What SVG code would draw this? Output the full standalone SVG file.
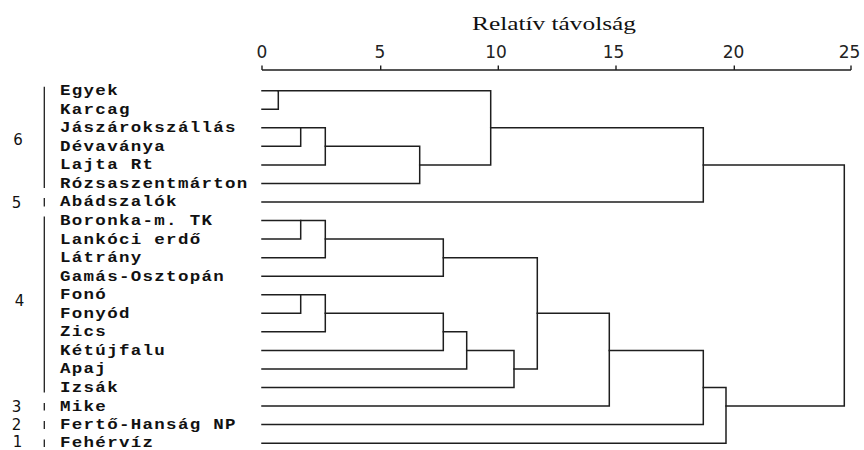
<svg xmlns="http://www.w3.org/2000/svg" width="864" height="450" viewBox="0 0 864 450">
  <style>
    .tree { fill: none; stroke: #1e1e1e; stroke-width: 1.5; stroke-linecap: square; stroke-linejoin: miter; }
    .axis { fill: none; stroke: #1e1e1e; stroke-width: 1.4; }
    .bar { fill: none; stroke: #1e1e1e; stroke-width: 1.3; }
    .num { font-family: "DejaVu Sans", "Liberation Sans", sans-serif; font-size: 17px; fill: #222; text-anchor: middle; }
    .title { font-family: "Liberation Serif", "Times New Roman", serif; font-size: 19px; fill: #111; }
    .grp { font-family: "DejaVu Sans", "Liberation Sans", sans-serif; font-size: 15px; fill: #111; text-anchor: middle; }
    .leaf { font-family: "Liberation Mono", "Courier New", monospace; font-size: 14px; font-weight: bold; letter-spacing: 1.04px; fill: #111; }
  </style>
  <rect width="864" height="450" fill="#ffffff"/>

  <!-- distance axis -->
  <g id="axis">
    <text class="title" x="472" y="29.5" textLength="164" lengthAdjust="spacingAndGlyphs">Relatív távolság</text>
    <path class="axis" d="M262 70 H851 M262 65.5 V70 M380.7 65.5 V70 M498.3 65.5 V70 M616 65.5 V70 M734.3 65.5 V70 M851 65.5 V70"/>
    <text class="num" x="262" y="57.5">0</text>
    <text class="num" x="380" y="57.5">5</text>
    <text class="num" x="496" y="57.5">10</text>
    <text class="num" x="613.5" y="57.5">15</text>
    <text class="num" x="733.5" y="57.5">20</text>
    <text class="num" x="849.5" y="57.5">25</text>
  </g>

  <!-- group numbers and brackets -->
  <g id="groups">
    <text class="grp" x="18" y="145">6</text>
    <path class="bar" d="M44.3 86.7 V188"/>
    <text class="grp" x="16.5" y="207.5">5</text>
    <path class="bar" d="M44.3 198 V206.5"/>
    <text class="grp" x="19.5" y="305.5">4</text>
    <path class="bar" d="M44.3 216.5 V392.5"/>
    <text class="grp" x="16.5" y="411.5">3</text>
    <path class="bar" d="M44.3 403 V410.5"/>
    <text class="grp" x="16.5" y="429.5">2</text>
    <path class="bar" d="M44.3 421 V429"/>
    <text class="grp" x="17.5" y="446.5">1</text>
    <path class="bar" d="M44.3 439.5 V447"/>
  </g>

  <!-- leaf labels -->
  <g id="leaves" transform="translate(60 0) scale(1.25 1)">
    <g id="n-egyek"><text class="leaf" x="0" y="95.2">Egyek</text></g>
    <g id="n-karcag"><text class="leaf" x="0" y="113.75">Karcag</text></g>
    <g id="n-jaszarokszallas"><text class="leaf" x="0" y="132.3">Jászárokszállás</text></g>
    <g id="n-devavanya"><text class="leaf" x="0" y="150.85">Dévaványa</text></g>
    <g id="n-lajta"><text class="leaf" x="0" y="169.4">Lajta Rt</text></g>
    <g id="n-rozsaszentmarton"><text class="leaf" x="0" y="187.95">Rózsaszentmárton</text></g>
    <g id="n-abadszalok"><text class="leaf" x="0" y="206.5">Abádszalók</text></g>
    <g id="n-boronka"><text class="leaf" x="0" y="225.05">Boronka-m. TK</text></g>
    <g id="n-lankoci"><text class="leaf" x="0" y="243.6">Lankóci erdő</text></g>
    <g id="n-latrany"><text class="leaf" x="0" y="262.15">Látrány</text></g>
    <g id="n-gamas"><text class="leaf" x="0" y="280.7">Gamás-Osztopán</text></g>
    <g id="n-fono"><text class="leaf" x="0" y="299.25">Fonó</text></g>
    <g id="n-fonyod"><text class="leaf" x="0" y="317.8">Fonyód</text></g>
    <g id="n-zics"><text class="leaf" x="0" y="336.35">Zics</text></g>
    <g id="n-ketujfalu"><text class="leaf" x="0" y="354.9">Kétújfalu</text></g>
    <g id="n-apaj"><text class="leaf" x="0" y="373.45">Apaj</text></g>
    <g id="n-izsak"><text class="leaf" x="0" y="392">Izsák</text></g>
    <g id="n-mike"><text class="leaf" x="0" y="410.55">Mike</text></g>
    <g id="n-ferto"><text class="leaf" x="0" y="429.1">Fertő-Hanság NP</text></g>
    <g id="n-feherviz"><text class="leaf" x="0" y="446.8">Fehérvíz</text></g>
  </g>

  <!-- dendrogram links: each merge drawn as two horizontals joined by a vertical -->
  <g id="connectors" class="tree">
    <path d="M262 90.7 H278.3 V109.25 H262"/>
    <path d="M262 127.8 H300.7 V146.35 H262"/>
    <path d="M300.7 127.8 H325.3 V164.9 H262"/>
    <path d="M325.3 146.35 H419.7 V183.45 H262"/>
    <path d="M278.3 90.7 H490.7 V164.9 H419.7"/>
    <path d="M490.7 127.8 H703.3 V202 H262"/>
    <path d="M262 220.55 H300.7 V239.1 H262"/>
    <path d="M300.7 220.55 H325.3 V257.65 H262"/>
    <path d="M325.3 239.1 H443.3 V276.2 H262"/>
    <path d="M262 294.75 H300.7 V313.3 H262"/>
    <path d="M300.7 294.75 H325.3 V331.85 H262"/>
    <path d="M325.3 313.3 H443.3 V350.4 H262"/>
    <path d="M443.3 331.85 H466.7 V368.95 H262"/>
    <path d="M466.7 350.4 H514 V387.5 H262"/>
    <path d="M443.3 257.65 H537.3 V368.95 H514"/>
    <path d="M537.3 313.3 H609.3 V406.05 H262"/>
    <path d="M609.3 350.4 H703.3 V424.6 H262"/>
    <path d="M703.3 387.5 H726 V443.15 H262"/>
    <path d="M703.3 164.9 H844.3 V406.05 H726"/>
  </g>
</svg>
